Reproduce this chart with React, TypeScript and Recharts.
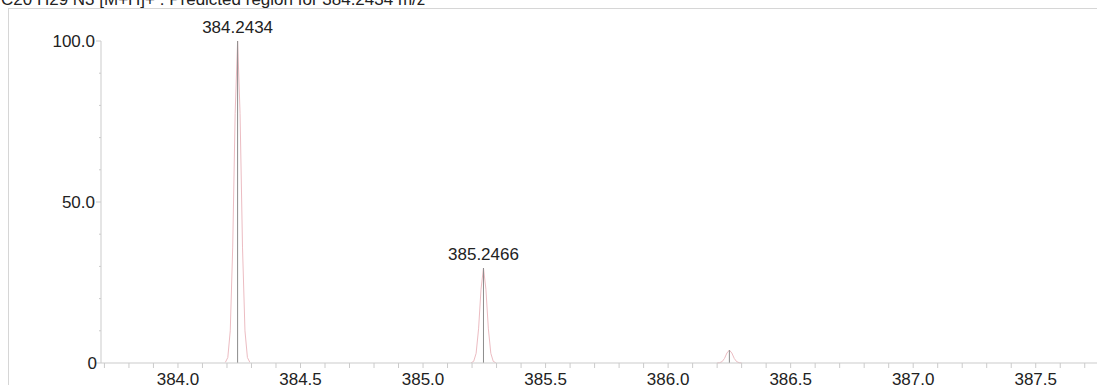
import React from "react";
import { ComposedChart, Line, Scatter, XAxis, YAxis } from "recharts";

// centroid sticks
const stickMz = [384.2434, 385.2466, 386.25];
const stickInt = [100, 29.5, 4.0];
const stickLabels = ["384.2434", "385.2466", ""];

// predicted profile around each isotope peak
const profile1Mz = [384.1934, 384.2034, 384.2134, 384.2234, 384.2334, 384.2434, 384.2534, 384.2634, 384.2734, 384.2834, 384.2934];
const profile1Int = [0.2, 1.7, 10.0, 36.0, 77.5, 100.0, 77.5, 36.0, 10.0, 1.7, 0.2];
const profile2Mz = [385.1966, 385.2066, 385.2166, 385.2266, 385.2366, 385.2466, 385.2566, 385.2666, 385.2766, 385.2866, 385.2966];
const profile2Int = [0.1, 0.5, 3.0, 10.6, 22.9, 29.5, 22.9, 10.6, 3.0, 0.5, 0.1];
const profile3Mz = [386.2, 386.21, 386.22, 386.23, 386.24, 386.25, 386.26, 386.27, 386.28, 386.29, 386.3];
const profile3Int = [0.0, 0.1, 0.4, 1.4, 3.1, 4.0, 3.1, 1.4, 0.4, 0.1, 0.0];

const xTicks = [
  383.7, 383.8, 383.9, 384.0, 384.1, 384.2, 384.3, 384.4, 384.5, 384.6,
  384.7, 384.8, 384.9, 385.0, 385.1, 385.2, 385.3, 385.4, 385.5, 385.6,
  385.7, 385.8, 385.9, 386.0, 386.1, 386.2, 386.3, 386.4, 386.5, 386.6,
  386.7, 386.8, 386.9, 387.0, 387.1, 387.2, 387.3, 387.4, 387.5, 387.6, 387.7,
];
const yTicks = [0, 10, 20, 30, 40, 50, 60, 70, 80, 90, 100];
const yLabels: Record<number, string> = { 0: "0", 50: "50.0", 100: "100.0" };

const FONT = '"Liberation Sans", Arial, sans-serif';
const AXIS = "#cbcbcb";
const PROFILE = "#ecbcc2";
const STICK = "#8c8c8c";

const toPoints = (mz: number[], int: number[]) =>
  mz.map((m, i) => ({ mz: m, int: int[i] }));

const profiles = [
  toPoints(profile1Mz, profile1Int),
  toPoints(profile2Mz, profile2Int),
  toPoints(profile3Mz, profile3Int),
];

const sticks = stickMz.map((m, i) => [
  { mz: m, int: 0 },
  { mz: m, int: stickInt[i] },
]);

const stickTops = stickMz.map((m, i) => ({
  mz: m,
  int: stickInt[i],
  label: stickLabels[i],
}));

function XTick({ x, y, payload }: any) {
  const v = payload.value as number;
  const major = Math.abs(v * 2 - Math.round(v * 2)) < 1e-6;
  return (
    <g>
      <line x1={x} x2={x} y1={y} y2={y + 5} stroke={AXIS} />
      {major && (
        <text x={x} y={y + 22} textAnchor="middle" fontSize={17} fontFamily={FONT} fill="#222">
          {v.toFixed(1)}
        </text>
      )}
    </g>
  );
}

function YTick({ x, y, payload }: any) {
  const v = payload.value as number;
  const label = yLabels[v];
  return (
    <g>
      <line x1={x - (label ? 5 : 2)} x2={x} y1={y} y2={y} stroke={AXIS} />
      {label && (
        <text x={x - (v === 0 ? 4 : 6)} y={y} dy="0.35em" textAnchor="end" fontSize={17} fontFamily={FONT} fill="#222">
          {label}
        </text>
      )}
    </g>
  );
}

function PeakLabel({ cx, cy, payload }: any) {
  if (!payload.label) return <g />;
  return (
    <text x={cx} y={cy - 8} textAnchor="middle" fontSize={17} fontFamily={FONT} fill="#222">
      {payload.label}
    </text>
  );
}

export default function App() {
  return (
    <div
      style={{
        position: "fixed",
        left: 0,
        top: 0,
        width: 1097,
        height: 385,
        overflow: "hidden",
        background: "#fff",
      }}
    >
      <div
        style={{
          position: "absolute",
          left: 1,
          top: -9,
          fontFamily: FONT,
          fontSize: 17,
          lineHeight: "17px",
          color: "#222",
          whiteSpace: "nowrap",
        }}
      >
        C20 H29 N3 [M+H]+ : Predicted region for 384.2434 m/z
      </div>
      {/* frame */}
      <div style={{ position: "absolute", left: 8, top: 8, right: 0, height: 1, background: "#d6d6d6" }} />
      <div style={{ position: "absolute", left: 8, top: 8, bottom: 0, width: 1, background: "#d6d6d6" }} />
      <div style={{ position: "absolute", left: 0, top: 0 }}>
        <ComposedChart width={1097} height={385} margin={{ top: 41, right: 0, bottom: 0, left: 0 }}>
          <XAxis
            type="number"
            dataKey="mz"
            domain={[383.686, 387.75]}
            ticks={xTicks}
            interval={0}
            tick={<XTick />}
            tickLine={false}
            tickSize={0}
            tickMargin={0}
            height={22}
            axisLine={{ stroke: AXIS }}
          />
          <YAxis
            type="number"
            dataKey="int"
            domain={[0, 100]}
            ticks={yTicks}
            interval={0}
            tick={<YTick />}
            tickLine={false}
            tickSize={0}
            tickMargin={0}
            width={101}
            axisLine={{ stroke: AXIS }}
          />
          {profiles.map((d, i) => (
            <Line
              key={`p${i}`}
              data={d}
              dataKey="int"
              type="linear"
              stroke={PROFILE}
              strokeWidth={1}
              dot={false}
              isAnimationActive={false}
            />
          ))}
          {sticks.map((d, i) => (
            <Line
              key={`s${i}`}
              data={d}
              dataKey="int"
              type="linear"
              stroke={STICK}
              strokeWidth={1}
              dot={false}
              isAnimationActive={false}
            />
          ))}
          <Scatter data={stickTops} dataKey="int" shape={<PeakLabel />} isAnimationActive={false} />
        </ComposedChart>
      </div>
    </div>
  );
}
